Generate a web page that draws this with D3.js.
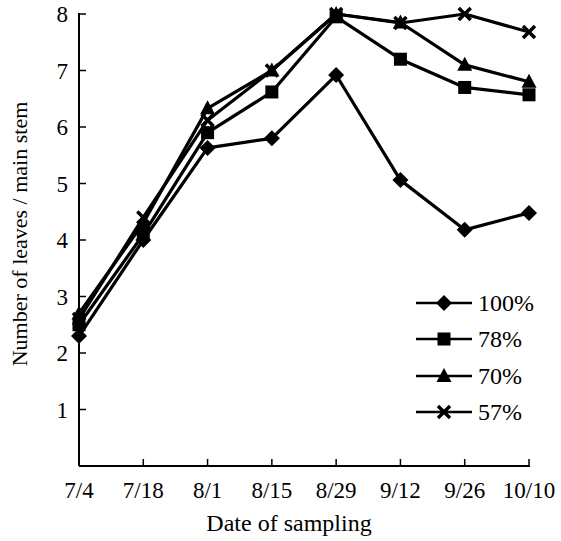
<!DOCTYPE html>
<html><head><meta charset="utf-8">
<script src="https://cdn.jsdelivr.net/npm/d3@7"></script>
<style>body{margin:0;background:#fff}svg{display:block}text{font-family:"Liberation Serif","Times New Roman",serif;fill:#000}</style>
</head><body><svg id="c" width="561" height="541"></svg>
<script>
const dates = ["7/4","7/18","8/1","8/15","8/29","9/12","9/26","10/10"];
const s100 = [2.3, 4.0, 5.63, 5.8, 6.92, 5.06, 4.18, 4.48];
const s78  = [2.5, 4.1, 5.9, 6.62, 7.95, 7.2, 6.7, 6.57];
const s70  = [2.7, 4.3, 6.33, 7.0, 8.0, 7.85, 7.1, 6.8];
const s57  = [2.6, 4.4, 6.12, 7.0, 8.0, 7.84, 8.0, 7.68];
const seriesNames = ["100%","78%","70%","57%"];
const markers = ["diamond","square","triangle","cross"];
const yTicks = [1,2,3,4,5,6,7,8];

const svg = d3.select("#c");
const x = d3.scalePoint().domain(dates).range([79,529]);
const y = d3.scaleLinear().domain([0,8]).range([466,14]);

// axes
const g = svg.append("g");
g.append("line").attr("x1",79).attr("x2",79).attr("y1",13).attr("y2",466).attr("stroke","#000").attr("stroke-width",2);
g.append("line").attr("x1",79).attr("x2",530).attr("y1",466).attr("y2",466).attr("stroke","#000").attr("stroke-width",2);
yTicks.forEach(v=>{
  g.append("line").attr("x1",79).attr("x2",86).attr("y1",y(v)).attr("y2",y(v)).attr("stroke","#000").attr("stroke-width",1.5);
  g.append("text").attr("x",68).attr("y",y(v)).attr("dy","0.35em").attr("text-anchor","end").attr("font-size",23).text(v);
});
dates.forEach((d,i)=>{
  if(i>0) g.append("line").attr("x1",x(d)).attr("x2",x(d)).attr("y1",466).attr("y2",459).attr("stroke","#000").attr("stroke-width",1.5);
  g.append("text").attr("x",x(d)).attr("y",498).attr("text-anchor","middle").attr("font-size",23).text(d);
});
g.append("text").attr("x",289).attr("y",531).attr("text-anchor","middle").attr("font-size",24).text("Date of sampling");
g.append("text").attr("transform","translate(27,234) rotate(-90)").attr("text-anchor","middle").attr("font-size",22).text("Number of leaves / main stem");

function drawMarker(sel, type, cx, cy){
  if(type==="diamond") sel.append("path").attr("d",`M${cx},${cy-8}L${cx+8},${cy}L${cx},${cy+8}L${cx-8},${cy}Z`).attr("fill","#000");
  else if(type==="square") sel.append("rect").attr("x",cx-6.5).attr("y",cy-6.5).attr("width",13).attr("height",13).attr("fill","#000");
  else if(type==="triangle") sel.append("path").attr("d",`M${cx},${cy-8}L${cx+7.5},${cy+6}L${cx-7.5},${cy+6}Z`).attr("fill","#000");
  else sel.append("path").attr("d",`M${cx-6},${cy-6}L${cx+6},${cy+6}M${cx+6},${cy-6}L${cx-6},${cy+6}`).attr("stroke","#000").attr("stroke-width",3.5);
}

const all = [s100,s78,s70,s57];
const line = d3.line().x((d,i)=>x(dates[i])).y(d=>y(d));
all.forEach((s,k)=>{
  svg.append("path").attr("d",line(s)).attr("fill","none").attr("stroke","#000").attr("stroke-width",3.2).attr("stroke-linejoin","round");
});
all.forEach((s,k)=>{
  const mg = svg.append("g");
  s.forEach((v,i)=>drawMarker(mg, markers[k], x(dates[i]), y(v)));
});

// legend
const legY = [303,339,376,412];
seriesNames.forEach((n,k)=>{
  const lg = svg.append("g");
  lg.append("line").attr("x1",416).attr("x2",472).attr("y1",legY[k]).attr("y2",legY[k]).attr("stroke","#000").attr("stroke-width",2.5);
  drawMarker(lg, markers[k], 444, legY[k]);
  lg.append("text").attr("x",478).attr("y",legY[k]).attr("dy","0.35em").attr("font-size",24).text(n);
});
</script></body></html>
